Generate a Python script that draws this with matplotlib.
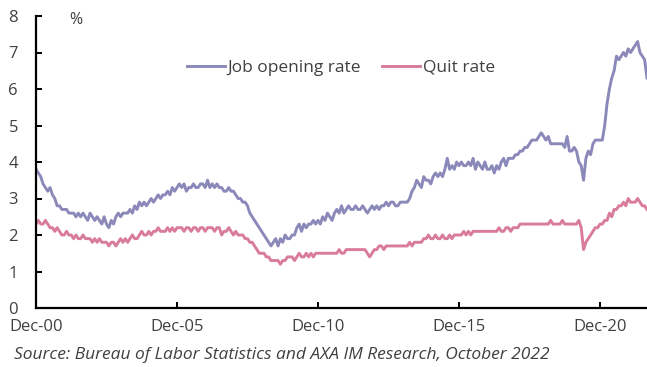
import matplotlib
matplotlib.use("Agg")
import matplotlib.pyplot as plt

# monthly, Dec 2000 .. Aug 2022
job_openings = [
    3.8,
    3.7, 3.6, 3.4, 3.3, 3.2, 3.3, 3.1, 3.0, 2.8, 2.8, 2.7, 2.7,
    2.7, 2.6, 2.6, 2.6, 2.5, 2.6, 2.5, 2.6, 2.5, 2.4, 2.6, 2.5,
    2.4, 2.5, 2.4, 2.3, 2.5, 2.3, 2.2, 2.4, 2.3, 2.5, 2.6, 2.5,
    2.6, 2.6, 2.6, 2.7, 2.6, 2.8, 2.7, 2.9, 2.8, 2.9, 2.8, 2.9,
    3.0, 2.9, 3.0, 3.1, 3.0, 3.1, 3.1, 3.2, 3.1, 3.3, 3.2, 3.3,
    3.4, 3.3, 3.4, 3.2, 3.3, 3.3, 3.4, 3.3, 3.3, 3.4, 3.4, 3.3,
    3.5, 3.3, 3.4, 3.3, 3.4, 3.3, 3.3, 3.2, 3.2, 3.3, 3.2, 3.2,
    3.1, 3.0, 3.0, 2.9, 2.9, 2.8, 2.6, 2.5, 2.4, 2.3, 2.2, 2.1,
    2.0, 1.9, 1.8, 1.7, 1.8, 1.9, 1.7, 1.9, 1.8, 2.0, 1.9, 1.9,
    2.0, 2.0, 2.2, 2.3, 2.1, 2.3, 2.2, 2.3, 2.3, 2.4, 2.3, 2.4,
    2.3, 2.5, 2.4, 2.6, 2.5, 2.4, 2.6, 2.7, 2.6, 2.8, 2.6, 2.7,
    2.8, 2.7, 2.7, 2.8, 2.7, 2.7, 2.8, 2.7, 2.6, 2.7, 2.8, 2.7,
    2.8, 2.7, 2.8, 2.8, 2.9, 2.8, 2.9, 2.9, 2.8, 2.8, 2.9, 2.9,
    2.9, 2.9, 3.0, 3.2, 3.3, 3.5, 3.4, 3.3, 3.6, 3.5, 3.5, 3.4,
    3.6, 3.7, 3.6, 3.7, 3.6, 3.8, 4.1, 3.8, 3.9, 3.8, 4.0, 3.9,
    4.0, 3.9, 3.9, 4.0, 3.9, 4.1, 3.8, 4.0, 3.9, 3.8, 4.0, 3.8,
    3.8, 3.9, 3.7, 3.9, 3.8, 4.0, 4.1, 3.9, 4.1, 4.1, 4.1, 4.2,
    4.2, 4.3, 4.3, 4.4, 4.4, 4.5, 4.6, 4.6, 4.6, 4.7, 4.8, 4.7,
    4.6, 4.7, 4.5, 4.5, 4.5, 4.5, 4.5, 4.5, 4.4, 4.7, 4.3, 4.3,
    4.4, 4.3, 4.0, 3.9, 3.5, 4.1, 4.3, 4.2, 4.5, 4.6, 4.6, 4.6,
    4.6, 5.0, 5.6, 6.0, 6.3, 6.5, 6.9, 6.8, 6.9, 7.0, 6.9, 7.1,
    7.0, 7.1, 7.2, 7.3, 7.0, 6.9, 6.8, 6.3,
]
quits = [
    2.3,
    2.4, 2.3, 2.3, 2.4, 2.3, 2.2, 2.2, 2.1, 2.2, 2.1, 2.0, 2.0,
    2.1, 2.0, 2.0, 1.9, 2.0, 1.9, 1.9, 2.0, 1.9, 1.9, 1.9, 1.8,
    1.9, 1.8, 1.9, 1.8, 1.8, 1.8, 1.7, 1.8, 1.8, 1.7, 1.8, 1.9,
    1.8, 1.9, 1.8, 1.9, 2.0, 1.9, 1.9, 2.0, 2.1, 2.0, 2.0, 2.1,
    2.0, 2.1, 2.1, 2.2, 2.1, 2.1, 2.1, 2.2, 2.1, 2.2, 2.1, 2.2,
    2.2, 2.2, 2.1, 2.2, 2.2, 2.1, 2.2, 2.2, 2.1, 2.2, 2.2, 2.1,
    2.2, 2.2, 2.2, 2.1, 2.2, 2.2, 2.0, 2.1, 2.1, 2.2, 2.1, 2.0,
    2.1, 2.0, 2.0, 2.0, 1.9, 1.9, 1.8, 1.8, 1.7, 1.6, 1.5, 1.5,
    1.5, 1.4, 1.4, 1.3, 1.3, 1.3, 1.3, 1.2, 1.3, 1.3, 1.4, 1.4,
    1.4, 1.3, 1.4, 1.5, 1.4, 1.4, 1.5, 1.4, 1.5, 1.4, 1.5, 1.5,
    1.5, 1.5, 1.5, 1.5, 1.5, 1.5, 1.5, 1.5, 1.6, 1.5, 1.5, 1.6,
    1.6, 1.6, 1.6, 1.6, 1.6, 1.6, 1.6, 1.6, 1.5, 1.4, 1.5, 1.6,
    1.6, 1.7, 1.7, 1.6, 1.7, 1.7, 1.7, 1.7, 1.7, 1.7, 1.7, 1.7,
    1.7, 1.7, 1.8, 1.7, 1.8, 1.8, 1.8, 1.8, 1.9, 1.9, 2.0, 1.9,
    1.9, 2.0, 1.9, 1.9, 2.0, 1.9, 1.9, 2.0, 1.9, 2.0, 2.0, 2.0,
    2.0, 2.1, 2.0, 2.1, 2.0, 2.1, 2.1, 2.1, 2.1, 2.1, 2.1, 2.1,
    2.1, 2.1, 2.1, 2.1, 2.2, 2.1, 2.1, 2.2, 2.2, 2.1, 2.2, 2.2,
    2.2, 2.3, 2.3, 2.3, 2.3, 2.3, 2.3, 2.3, 2.3, 2.3, 2.3, 2.3,
    2.3, 2.3, 2.4, 2.3, 2.3, 2.3, 2.3, 2.4, 2.3, 2.3, 2.3, 2.3,
    2.3, 2.3, 2.4, 2.2, 1.6, 1.8, 1.9, 2.0, 2.1, 2.2, 2.2, 2.3,
    2.3, 2.4, 2.4, 2.6, 2.5, 2.7, 2.7, 2.8, 2.8, 2.9, 2.8, 3.0,
    2.9, 2.9, 2.9, 3.0, 2.9, 2.8, 2.8, 2.7,
]
tick_labels = ["Dec-00", "Dec-05", "Dec-10", "Dec-15", "Dec-20"]
tick_months = [0, 60, 120, 180, 240]
y_ticks = [0, 1, 2, 3, 4, 5, 6, 7, 8]

txt = "#404040"
plt.rcParams["font.family"] = ["Open Sans", "DejaVu Sans"]

fig = plt.figure(figsize=(6.47, 3.67), dpi=100)
ax = fig.add_axes([36 / 647, 1 - 308 / 367, 1 - 36 / 647, (308 - 16) / 367])

months = list(range(len(job_openings)))
ax.plot(months, job_openings, color="#8b89b9", lw=2.1, label="Job opening rate")
ax.plot(months, quits, color="#d97b9d", lw=2.1, label="Quit rate")

ax.set_xlim(0, len(job_openings) - 1)
ax.set_ylim(0, 8)
ax.set_xticks(tick_months)
ax.set_xticklabels(tick_labels)
ax.set_yticks(y_ticks)

for s in ["top", "right"]:
    ax.spines[s].set_visible(False)
for s in ["left", "bottom"]:
    ax.spines[s].set_linewidth(1.6)
    ax.spines[s].set_color("black")

ax.tick_params(axis="both", direction="in", length=4, width=1.4, colors="black",
               labelcolor=txt, labelsize=12)
ax.tick_params(axis="y", pad=13)
ax.tick_params(axis="x", pad=8)

ax.text(0.055, 0.985, "%", transform=ax.transAxes, color=txt, fontsize=11.5,
        ha="left", va="center")

fig.legend(loc="center", bbox_to_anchor=(0.527, 0.815), ncol=2, frameon=False,
           fontsize=12.5, labelcolor=txt, handlelength=2.2, handletextpad=0.15,
           columnspacing=1.2)

fig.text(14 / 647, 1 - 355 / 367,
         "Source: Bureau of Labor Statistics and AXA IM Research, October 2022",
         style="italic", color=txt, fontsize=12.5, ha="left", va="center")

fig.savefig("out.png", dpi=100)
